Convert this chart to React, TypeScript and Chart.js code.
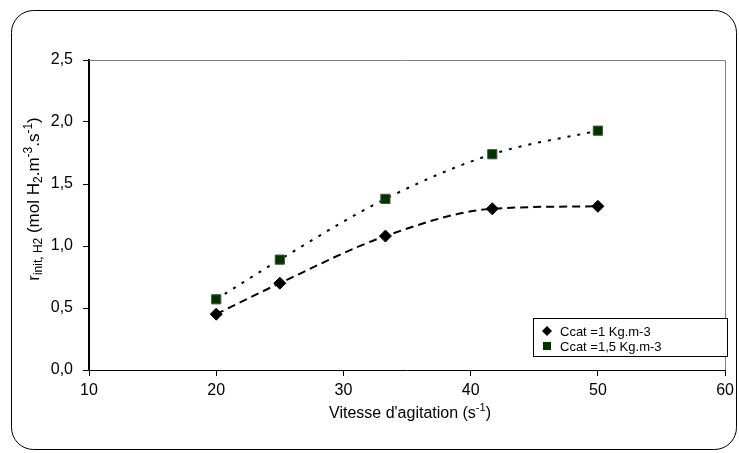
import React, { useEffect, useRef } from "react";
import { Chart, registerables } from "chart.js";

Chart.register(...registerables);

const speeds = [20, 25, 33.3, 41.7, 50];
const ccat1 = [0.45, 0.7, 1.08, 1.3, 1.32];
const ccat15 = [0.57, 0.89, 1.38, 1.74, 1.93];
const seriesLabels = ["Ccat =1 Kg.m-3", "Ccat =1,5 Kg.m-3"];
const FONT = "'Liberation Sans', Arial, sans-serif";

type Seg = { t: string; s: number; dy: number };

function drawSegs(ctx: CanvasRenderingContext2D, segs: Seg[], startX: number, baseY: number) {
  let x = startX;
  for (const g of segs) {
    ctx.font = `${g.s}px ${FONT}`;
    ctx.fillText(g.t, x, baseY + g.dy);
    x += ctx.measureText(g.t).width;
  }
}
function segsWidth(ctx: CanvasRenderingContext2D, segs: Seg[]) {
  let w = 0;
  for (const g of segs) {
    ctx.font = `${g.s}px ${FONT}`;
    w += ctx.measureText(g.t).width;
  }
  return w;
}

const decorPlugin = {
  id: "decor",
  beforeDraw(chart: any) {
    const ctx = chart.ctx as CanvasRenderingContext2D;
    ctx.save();
    ctx.fillStyle = "#fff";
    ctx.fillRect(0, 0, chart.width, chart.height);
    ctx.beginPath();
    (ctx as any).roundRect(11.5, 10.5, 725, 439, 22);
    ctx.strokeStyle = "#000";
    ctx.lineWidth = 1;
    ctx.stroke();
    ctx.restore();
  },
  beforeDatasetsDraw(chart: any) {
    const ctx = chart.ctx as CanvasRenderingContext2D;
    const a = chart.chartArea;
    ctx.save();
    ctx.strokeStyle = "#808080";
    ctx.lineWidth = 1;
    ctx.beginPath();
    ctx.moveTo(a.left, Math.round(a.top) + 0.5);
    ctx.lineTo(Math.round(a.right) + 0.5, Math.round(a.top) + 0.5);
    ctx.lineTo(Math.round(a.right) + 0.5, a.bottom);
    ctx.stroke();
    ctx.restore();
  },
  afterDraw(chart: any) {
    const ctx = chart.ctx as CanvasRenderingContext2D;
    ctx.save();
    ctx.fillStyle = "#000";
    ctx.textBaseline = "alphabetic";
    // x title
    const xs: Seg[] = [
      { t: "Vitesse d'agitation (s", s: 16, dy: 0 },
      { t: "-1", s: 11, dy: -7 },
      { t: ")", s: 16, dy: 0 },
    ];
    const xw = segsWidth(ctx, xs);
    drawSegs(ctx, xs, 410 - xw / 2, 418);
    // y title
    const ys: Seg[] = [
      { t: "r", s: 17, dy: 0 },
      { t: "init, H2", s: 12, dy: 3 },
      { t: " (mol H", s: 17, dy: 0 },
      { t: "2", s: 12, dy: 3 },
      { t: ".m", s: 17, dy: 0 },
      { t: "-3", s: 12, dy: -7 },
      { t: ".s", s: 17, dy: 0 },
      { t: "-1", s: 12, dy: -7 },
      { t: ")", s: 17, dy: 0 },
    ];
    const yw = segsWidth(ctx, ys);
    ctx.translate(39, 199);
    ctx.rotate(-Math.PI / 2);
    drawSegs(ctx, ys, -yw / 2, 0);
    ctx.restore();

    // legend
    ctx.save();
    ctx.fillStyle = "#fff";
    ctx.fillRect(533.5, 318.5, 194, 38);
    ctx.strokeStyle = "#000";
    ctx.lineWidth = 1;
    ctx.strokeRect(533.5, 318.5, 194, 38);
    const rows = [331, 346];
    chart.data.datasets.forEach((ds: any, i: number) => {
      const y = rows[i];
      ctx.fillStyle = ds.backgroundColor;
      ctx.strokeStyle = ds.borderColor;
      ctx.beginPath();
      if (ds.pointStyle === "rectRot") {
        ctx.moveTo(547, y - 5);
        ctx.lineTo(552, y);
        ctx.lineTo(547, y + 5);
        ctx.lineTo(542, y);
        ctx.closePath();
        ctx.fill();
      } else {
        ctx.rect(543, y - 4, 8, 8);
        ctx.fillStyle = ds.pointBackgroundColor;
        ctx.fill();
      }
      ctx.fillStyle = "#000";
      ctx.font = `13px ${FONT}`;
      ctx.textBaseline = "middle";
      ctx.fillText(seriesLabels[i], 560, y + 1);
    });
    ctx.restore();
  },
};

export default function App() {
  const ref = useRef<HTMLCanvasElement | null>(null);
  useEffect(() => {
    if (!ref.current) return;
    const chart = new Chart(ref.current, {
      type: "scatter",
      data: {
        datasets: [
          {
            label: seriesLabels[0],
            data: speeds.map((x, i) => ({ x, y: ccat1[i] })),
            showLine: true,
            cubicInterpolationMode: "monotone",
            borderColor: "#000",
            backgroundColor: "#000",
            pointBackgroundColor: "#000",
            pointBorderColor: "#000",
            borderWidth: 2,
            borderDash: [8, 5],
            pointStyle: "rectRot",
            pointRadius: 6,
            pointBorderWidth: 1,
          } as any,
          {
            label: seriesLabels[1],
            data: speeds.map((x, i) => ({ x, y: ccat15[i] })),
            showLine: true,
            cubicInterpolationMode: "monotone",
            borderColor: "#000",
            backgroundColor: "#003300",
            pointBackgroundColor: "#003300",
            pointBorderColor: "#3a5a3a",
            borderWidth: 2,
            borderDash: [3, 7],
            pointStyle: "rect",
            pointRadius: 6.5,
            pointBorderWidth: 1,
          } as any,
        ],
      },
      options: {
        animation: false,
        responsive: false,
        devicePixelRatio: 1,
        layout: { padding: { left: 0, top: 60, right: 13, bottom: 0 } },
        plugins: { legend: { display: false }, tooltip: { enabled: false } },
        scales: {
          x: {
            type: "linear",
            min: 10,
            max: 60,
            ticks: {
              stepSize: 10,
              padding: 5,
              color: "#000",
              font: { family: FONT, size: 16 },
              callback: (v: any) => String(v),
            },
            grid: { display: true, drawOnChartArea: false, drawTicks: true, tickLength: 6, color: "#000" },
            border: { display: true, color: "#000", width: 1 },
            afterFit: (s: any) => {
              s.height = 83;
            },
          },
          y: {
            type: "linear",
            min: 0,
            max: 2.5,
            ticks: {
              stepSize: 0.5,
              padding: 10,
              color: "#000",
              font: { family: FONT, size: 16 },
              callback: (v: any) => Number(v).toFixed(1).replace(".", ","),
            },
            grid: { display: true, drawOnChartArea: false, drawTicks: true, tickLength: 6, color: "#000" },
            border: { display: true, color: "#000", width: 2 },
            afterFit: (s: any) => {
              s.width = 89;
            },
          },
        },
      },
      plugins: [decorPlugin],
    } as any);
    return () => chart.destroy();
  }, []);
  return (
    <div style={{ position: "fixed", left: 0, top: 0, width: 739, height: 453, background: "#fff" }}>
      <canvas ref={ref} width={739} height={453} style={{ display: "block" }} />
    </div>
  );
}
